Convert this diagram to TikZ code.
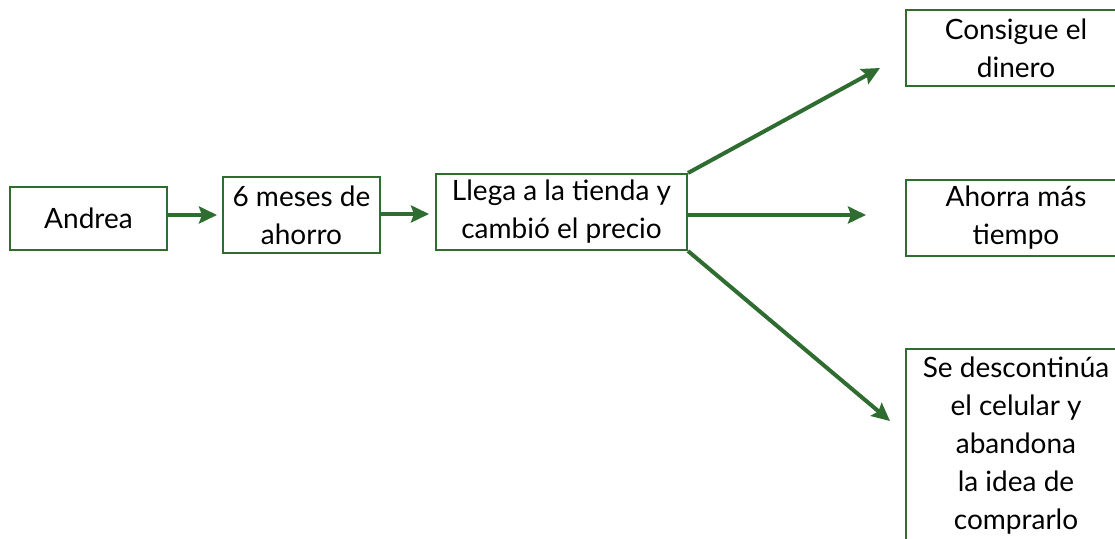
\documentclass[tikz,border=0pt]{standalone}
\usepackage{fontspec}
\setmainfont{Lato}
\usepackage{tikz}
\usetikzlibrary{arrows.meta}
\definecolor{verde}{RGB}{46,108,48}
\tikzset{caja/.style={draw=verde, line width=1pt, align=center, inner sep=2pt,
  font=\fontsize{14}{19}\selectfont},
  flecha/.style={draw=verde, line width=2pt, -{Stealth[length=9pt,width=8.5pt,inset=1.5pt]}}}

\begin{document}
\begin{tikzpicture}[x=0.5pt, y=-0.5pt]
\clip (0,0) rectangle (1115,539);
% cajas de la izquierda
\node[caja, minimum width=78.5pt, minimum height=31.5pt] (andrea) at (88.5,218.5) {Andrea};
\node[caja, minimum width=78.5pt, minimum height=38pt] (meses) at (301.5,215) {6 meses de\\ahorro};
\node[caja, minimum width=125.5pt, minimum height=38pt] (llega) at (561.5,212) {Llega a la tienda y\\cambi\'o el precio};
% cajas de la derecha (cortadas)
\node[caja, minimum width=110pt, minimum height=38pt] (dinero) at (1016,48) {Consigue el\\dinero};
\node[caja, minimum width=110pt, minimum height=38pt] (tiempo) at (1016,218) {Ahorra m\'as\\tiempo};
\node[caja, minimum width=110pt, minimum height=97pt] (abandona) at (1016,446) {Se descontin\'ua\\el celular y\\abandona\\la idea de\\comprarlo};
% puntas libres
\coordinate (p1) at (880,68);
\coordinate (p2) at (866,215);
\coordinate (p3) at (890,421);
\draw[flecha] (andrea.east |- meses) -- ([xshift=-2.5pt]meses.west);
\draw[flecha] (meses.east |- 0,214) -- ([xshift=-3pt]llega.west |- 0,214);
\draw[flecha] (llega.north east) -- (p1);
\draw[flecha] (llega.east |- p2) -- (p2);
\draw[flecha] (llega.south east) -- (p3);
\end{tikzpicture}
\end{document}
